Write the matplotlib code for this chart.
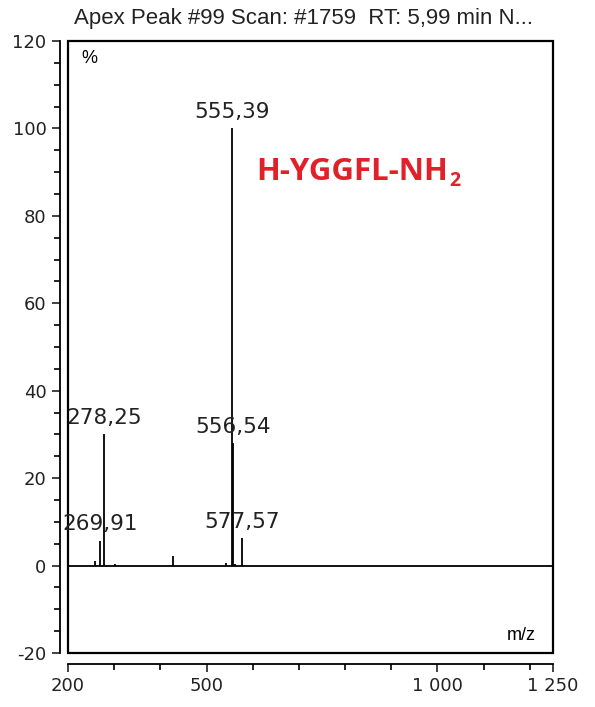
import matplotlib
matplotlib.use("Agg")
import matplotlib.pyplot as plt
from matplotlib.patches import Rectangle
from matplotlib.ticker import MultipleLocator, FixedLocator

plt.rcParams["axes.unicode_minus"] = False

# peaks (m/z, relative intensity %)
mz = [258.0, 269.91, 278.25, 302.0, 427.0, 542.0, 555.39, 556.54, 561.0, 577.57]
intensity = [1.0, 5.7, 30.0, 0.4, 2.3, 0.6, 100.0, 28.0, 0.4, 6.2]

# annotated peaks
label_mz = [269.91, 278.25, 555.39, 556.54, 577.57]
label_int = [5.7, 30.0, 100.0, 28.0, 6.2]
label_txt = ["269,91", "278,25", "555,39", "556,54", "577,57"]

x_major = [200, 500, 1000, 1250]
x_major_txt = ["200", "500", "1 000", "1 250"]
x_minor = [300, 400, 600, 700, 800, 900, 1100, 1200]

title = "Apex Peak #99 Scan: #1759  RT: 5,99 min N..."
compound = "H-YGGFL-NH"
compound_sub = "2"

fig = plt.figure(figsize=(5.95, 7.07), dpi=100)
ax = fig.add_axes([0.1143, 0.0764, 0.815, 0.8656])

ax.vlines(mz, 0, intensity, color="black", lw=1.3)
ax.axhline(0, color="black", lw=1.3)

for m, h, t in zip(label_mz, label_int, label_txt):
    ax.text(m, h + 1.5, t, ha="center", va="bottom", fontsize=15.5,
            family="DejaVu Sans", color="#222222")

ax.set_xlim(200, 1250)
ax.set_ylim(-20, 120)

red = "#e2202a"
main_txt = ax.text(607, 90, compound, ha="left", va="center", fontsize=22.5,
                   family="Open Sans", weight="bold", color=red)
fig.canvas.draw()
bb = main_txt.get_window_extent()
# subscript placed right after the main text, dropped below the baseline
ax.annotate(compound_sub, xy=(bb.x1, bb.y0), xycoords="figure pixels",
            xytext=(1, -3), textcoords="offset points", ha="left", va="bottom",
            fontsize=14, family="Open Sans", weight="bold", color=red)

# detached axis lines like the instrument software
for s in ["top", "right"]:
    ax.spines[s].set_visible(False)
ax.spines["left"].set_position(("outward", 6))
ax.spines["bottom"].set_position(("outward", 8))
ax.spines["left"].set_linewidth(1.3)
ax.spines["bottom"].set_linewidth(1.3)
ax.add_patch(Rectangle((0, 0), 1, 1, transform=ax.transAxes, fill=False,
                       lw=1.6, ec="black", clip_on=False))

ax.yaxis.set_major_locator(MultipleLocator(20))
ax.yaxis.set_minor_locator(MultipleLocator(5))
ax.xaxis.set_major_locator(FixedLocator(x_major))
ax.xaxis.set_minor_locator(FixedLocator(x_minor))
ax.set_xticklabels(x_major_txt)
ax.tick_params(which="major", length=6, width=1.2, labelsize=13, colors="#222222")
ax.tick_params(which="minor", length=4, width=1.2)

ax.text(0.045, 0.985, "%", transform=ax.transAxes, ha="center", va="top",
        fontsize=13, family="Liberation Sans")
ax.text(0.935, 0.015, "m/z", transform=ax.transAxes, ha="center", va="bottom",
        fontsize=13, family="Liberation Sans")

fig.text(0.51, 0.974, title, ha="center", va="center", fontsize=16,
         family="Liberation Sans", color="#222222")

fig.savefig("out.png", dpi=100, facecolor="white")
